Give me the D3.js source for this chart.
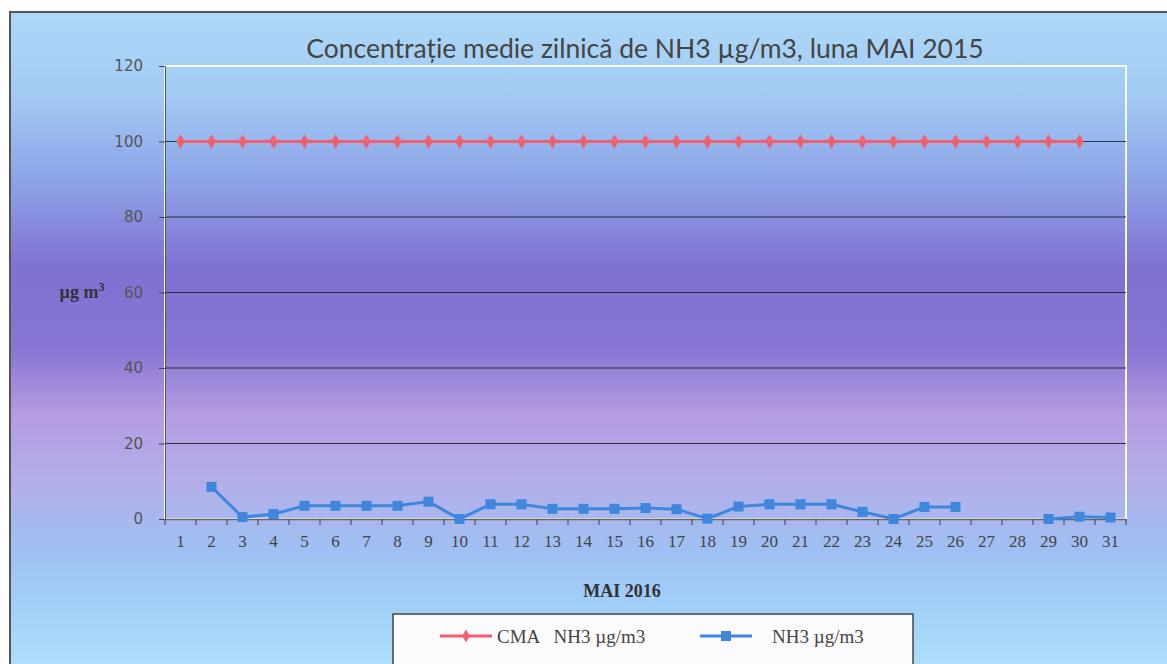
<!DOCTYPE html>
<html><head><meta charset="utf-8">
<script src="https://cdn.jsdelivr.net/npm/d3@7"></script>
<style>html,body{margin:0;padding:0;background:#fff;}svg{display:block;}</style>
</head><body>
<svg id="c" width="1167" height="664"></svg>
<script>
const days = d3.range(1, 32).map(String);
const cmaValues = [100,100,100,100,100,100,100,100,100,100,100,100,100,100,100,100,100,100,100,100,100,100,100,100,100,100,100,100,100,100,null];
const nh3Values = [null,8.5,0.5,1.3,3.5,3.5,3.5,3.5,4.6,0,3.9,3.9,2.7,2.7,2.7,2.9,2.6,0.1,3.3,3.9,3.9,3.9,1.9,0,3.2,3.2,null,null,0,0.6,0.4];
const yTicks = [0,20,40,60,80,100,120];
const titleText = "Concentrație medie zilnică de NH3 µg/m3, luna MAI 2015";
const xTitle = "MAI 2016";
const legendLabels = ["CMA   NH3 µg/m3", "NH3 µg/m3"];

const svg = d3.select("#c");
const defs = svg.append("defs");
const grad = defs.append("linearGradient").attr("id","bg").attr("x1",0).attr("y1",0).attr("x2",0).attr("y2",1);
[[0,"#aed8f7"],[0.12,"#a2cbf4"],[0.25,"#8ea4e8"],[0.38,"#7f72d2"],[0.5,"#8874d2"],[0.6,"#b49ce2"],[0.7,"#b4aee9"],[0.8,"#9fbff2"],[0.9,"#a2d2f8"],[1,"#b2e2fb"]]
  .forEach(([o,c])=>grad.append("stop").attr("offset",o).attr("stop-color",c));

svg.append("rect").attr("x",10).attr("y",12).attr("width",1170).attr("height",670)
  .attr("fill","url(#bg)").attr("stroke","#555").attr("stroke-width",2);

const L=165,R=1126,T=66,B=519;
const x = d3.scaleBand().domain(days).range([L,R]);
const y = d3.scaleLinear().domain([0,120]).range([B,T]);

svg.append("rect").attr("x",L).attr("y",T).attr("width",R-L).attr("height",B-T)
  .attr("fill","none").attr("stroke","#f4f8ff").attr("stroke-width",2);

svg.append("g").selectAll("line").data(yTicks.filter(t=>t>0&&t<120)).join("line")
  .attr("x1",L).attr("x2",R).attr("y1",d=>y(d)).attr("y2",d=>y(d))
  .attr("stroke","#2e2e3c").attr("stroke-width",1);

const yAxis = svg.append("g").attr("transform",`translate(${L},0)`)
  .call(d3.axisLeft(y).tickValues(yTicks).tickSize(6).tickPadding(16));
yAxis.select(".domain").attr("stroke","#555");
yAxis.selectAll(".tick line").attr("stroke","#444");
yAxis.selectAll("text").attr("font-family","DejaVu Sans").attr("font-size",15).attr("fill","#555");

const xAxis = svg.append("g").attr("transform",`translate(0,${B})`)
  .call(d3.axisBottom(x).tickSize(0).tickPadding(16));
xAxis.select(".domain").attr("stroke","#666").attr("stroke-width",1.5);
xAxis.selectAll("text").attr("font-family","Liberation Serif").attr("font-size",17).attr("fill","#444");
svg.append("g").selectAll("line").data(days.concat(["end"])).join("line")
  .attr("x1",(d,i)=>L+i*x.step()).attr("x2",(d,i)=>L+i*x.step())
  .attr("y1",B).attr("y2",B+6).attr("stroke","#444");

const cx = i => x(days[i]) + x.bandwidth()/2;
const lineGen = d3.line().defined(d=>d!=null).x((d,i)=>cx(i)).y(d=>y(d));
svg.append("path").datum(cmaValues).attr("d",lineGen).attr("fill","none").attr("stroke","#f0606e").attr("stroke-width",3);
svg.append("g").selectAll("path").data(cmaValues.map((v,i)=>[v,i]).filter(d=>d[0]!=null)).join("path")
  .attr("d",d3.symbol(d3.symbolDiamond,60)).attr("transform",d=>`translate(${cx(d[1])},${y(d[0])})`).attr("fill","#f0606e");

svg.append("path").datum(nh3Values).attr("d",lineGen).attr("fill","none").attr("stroke","#3f86dd").attr("stroke-width",3);
svg.append("g").selectAll("rect").data(nh3Values.map((v,i)=>[v,i]).filter(d=>d[0]!=null)).join("rect")
  .attr("x",d=>cx(d[1])-5).attr("y",d=>y(d[0])-5).attr("width",10).attr("height",10).attr("fill","#3f86dd");

svg.append("text").attr("x",645).attr("y",58).attr("text-anchor","middle")
  .attr("font-family","Lato, 'Open Sans', sans-serif").attr("font-size",26.5).attr("fill","#444").text(titleText);
svg.append("text").attr("x",622).attr("y",597).attr("text-anchor","middle")
  .attr("font-family","Liberation Serif").attr("font-weight","bold").attr("font-size",18).attr("fill","#333").text(xTitle);
const yl = svg.append("text").attr("x",82).attr("y",298).attr("text-anchor","middle")
  .attr("font-family","Liberation Serif").attr("font-weight","bold").attr("font-size",18).attr("fill","#333");
yl.append("tspan").text("µg m");
yl.append("tspan").attr("dy",-7).attr("font-size",12).text("3");

svg.append("rect").attr("x",393).attr("y",614).attr("width",520).attr("height",52)
  .attr("fill","#fbfbfd").attr("stroke","#444").attr("stroke-width",1.5);
const lg = [{c:"#f0606e",x0:440,tx:497,diamond:true},{c:"#3f86dd",x0:700,tx:772,diamond:false}];
lg.forEach((l,i)=>{
  svg.append("line").attr("x1",l.x0).attr("x2",l.x0+52).attr("y1",636).attr("y2",636).attr("stroke",l.c).attr("stroke-width",3);
  if(l.diamond) svg.append("path").attr("d",d3.symbol(d3.symbolDiamond,50)).attr("transform",`translate(${l.x0+26},636)`).attr("fill",l.c);
  else svg.append("rect").attr("x",l.x0+21).attr("y",631).attr("width",10).attr("height",10).attr("fill",l.c);
  svg.append("text").attr("x",l.tx).attr("y",643).attr("font-family","Liberation Serif").attr("font-size",19)
    .attr("fill","#444").attr("xml:space","preserve").style("white-space","pre").text(legendLabels[i]);
});
</script>
</body></html>
